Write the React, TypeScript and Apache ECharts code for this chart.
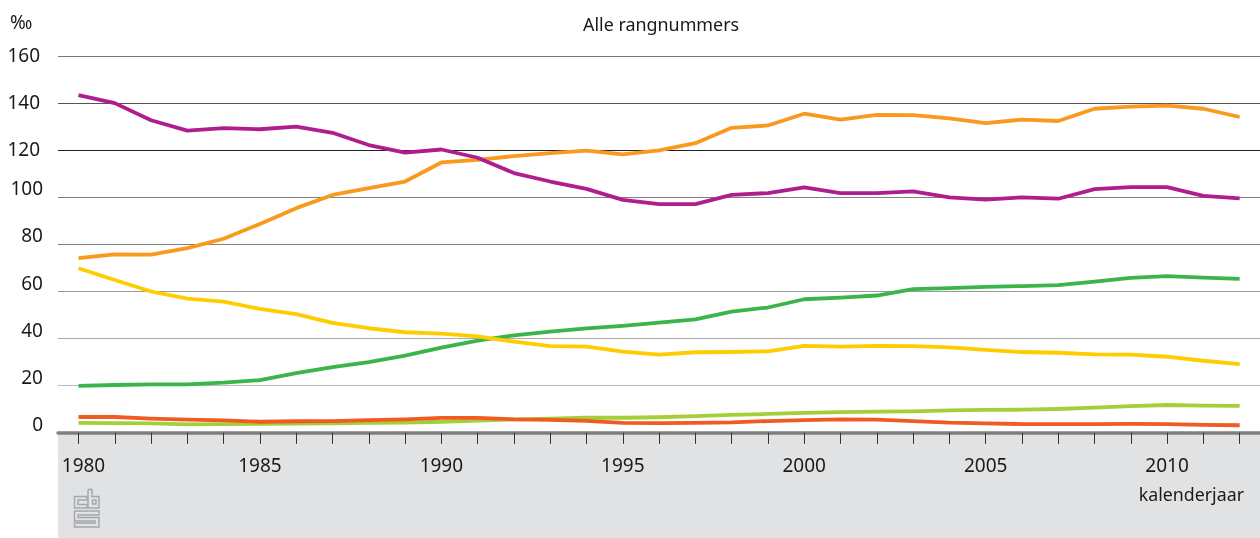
import React, { useEffect, useRef } from "react";
import * as echarts from "echarts";

const years = [1980,1981,1982,1983,1984,1985,1986,1987,1988,1989,1990,1991,1992,1993,1994,1995,1996,1997,1998,1999,2000,2001,2002,2003,2004,2005,2006,2007,2008,2009,2010,2011,2012];
const labelYears = [1980,1985,1990,1995,2000,2005,2010];
const orange = [74.2,75.8,75.7,78.4,82.4,88.7,95.4,101,103.9,106.7,114.8,115.9,117.5,118.8,119.8,118.2,119.9,123,129.5,130.5,135.5,133,135,134.9,133.5,131.5,133,132.4,137.6,138.5,138.9,137.6,134.1];
const purple = [143.4,140,132.7,128.3,129.4,128.9,130,127.4,122.2,119,120.3,116.8,110.3,106.7,103.6,98.9,97.1,97.1,101,101.8,104.2,101.8,101.8,102.5,100,99,100,99.4,103.5,104.3,104.3,100.6,99.5];
const green = [19.9,20.3,20.6,20.6,21.3,22.4,25.3,27.9,30,32.8,36.2,39.1,41.4,43,44.3,45.4,46.8,48.2,51.5,53.2,56.7,57.4,58.3,61,61.4,62,62.3,62.7,64.2,65.8,66.5,65.9,65.4];
const yellow = [69.9,64.9,60,57,55.7,52.6,50.4,46.7,44.4,42.7,42.1,40.9,38.7,36.8,36.6,34.5,33.2,34.2,34.3,34.6,36.9,36.6,36.9,36.8,36.3,35.2,34.3,34,33.3,33.2,32.3,30.6,29.2];
const lime = [4.2,4.1,4,3.6,3.7,3.8,3.9,4,4.2,4.3,4.7,5.2,5.7,6,6.4,6.4,6.6,7.1,7.6,8,8.5,8.8,9,9.1,9.5,9.7,9.8,10.1,10.7,11.3,11.8,11.5,11.4];
const red = [6.7,6.7,6,5.6,5.3,4.7,4.9,5,5.4,5.7,6.3,6.3,5.7,5.5,5.1,4.2,4.1,4.2,4.4,5,5.4,5.7,5.6,5,4.3,4,3.7,3.7,3.7,3.8,3.7,3.4,3.2];

const FONT = "'Noto Sans'";
const INK = "#1a1a1a";
const NUM_SIZE = 19;
const line = (name: string, data: number[], color: string) => ({
  name,
  type: "line",
  data: data.map((v, i) => [years[i], v]),
  symbol: "none",
  smooth: false,
  lineStyle: { color, width: 3.8, cap: "butt", join: "round" },
});

const logoStyle = { fill: "none", stroke: "#A4A6A9", lineWidth: 1.4 };
const logoShapes: number[][][] = [
  [[87,496.5],[74.5,496.5],[74.5,508],[87,508],[87,504.5],[78,504.5],[78,500],[87,500],[87,496.5]],
  [[88,489.5],[92,489.5],[92,496.5],[99,496.5],[99,508],[88,508],[88,489.5]],
  [[92.5,500],[96,500],[96,504],[92.5,504],[92.5,500]],
  [[74.5,511],[99,511],[99,515],[78,515],[78,517.5],[99,517.5],[99,527],[74.5,527],[74.5,523],[95,523],[95,521],[74.5,521],[74.5,511]],
];

export default function App() {
  const ref = useRef<HTMLDivElement>(null);
  useEffect(() => {
    const chart = echarts.init(ref.current!, undefined, { renderer: "svg" });
    chart.setOption({
      animation: false,
      textStyle: { fontFamily: FONT },
      title: {
        text: "Alle rangnummers",
        left: 578,
        top: 10,
        textStyle: { fontFamily: FONT, fontSize: 17.9, fontWeight: "normal", color: INK },
      },
      grid: { left: 58, right: 0, top: 56, bottom: 105.2, containLabel: false },
      xAxis: {
        type: "value",
        min: 1979.435,
        max: 2012.56,
        splitLine: { show: false },
        axisLine: { show: true, onZero: false, lineStyle: { color: "#808080", width: 3.5 } },
        axisTick: { show: true, customValues: years, length: 11, lineStyle: { color: "#333", width: 1 } },
        axisLabel: {
          show: true,
          customValues: labelYears,
          margin: 23,
          fontFamily: FONT,
          fontSize: NUM_SIZE,
          color: INK,
          formatter: (v: number) => (v === 1980 ? `{first|${v}}` : `${v}`),
          rich: { first: { fontFamily: FONT, fontSize: NUM_SIZE, color: INK, padding: [0, 0, 0, 10] } },
        },
      },
      yAxis: {
        type: "value",
        min: 0,
        max: 160,
        interval: 20,
        axisLine: { show: false },
        axisTick: { show: false },
        splitLine: {
          show: true,
          lineStyle: { width: 1, color: ["#808080","#bbbbbb","#aaaaaa","#999999","#808080","#808080","#222222","#555555","#777777"] },
        },
        axisLabel: {
          margin: 15,
          fontFamily: FONT,
          fontSize: NUM_SIZE,
          color: INK,
          formatter: (v: number) => (v >= 120 ? `{hi|${v}}` : `{lo|${v}}`),
          rich: {
            hi: { fontFamily: FONT, fontSize: NUM_SIZE, color: INK, padding: [0, 3, 3, 0] },
            lo: { fontFamily: FONT, fontSize: NUM_SIZE, color: INK, padding: [0, 0, 18, 0] },
          },
        },
      },
      series: [
        line("1", lime, "#A5CF38"),
        line("2", red, "#F15A22"),
        line("3", green, "#39B54A"),
        line("4", yellow, "#FFCC00"),
        line("5", orange, "#F9991E"),
        line("6", purple, "#AF1E8C"),
      ],
      graphic: [
        { type: "rect", z: -10, silent: true, shape: { x: 58, y: 433, width: 1202, height: 105 }, style: { fill: "#E1E2E4" } },
        { type: "text", x: 10, y: 12, style: { text: "‰", font: `19px ${FONT}`, fill: INK } },
        { type: "text", x: 1244, y: 485, style: { text: "kalenderjaar", font: `17.8px ${FONT}`, fill: INK, textAlign: "right" } },
        ...logoShapes.map((points) => ({ type: "polyline", silent: true, shape: { points }, style: logoStyle })),
      ],
    });
    return () => chart.dispose();
  }, []);
  return <div ref={ref} style={{ position: "fixed", left: 0, top: 0, width: 1260, height: 538 }} />;
}
